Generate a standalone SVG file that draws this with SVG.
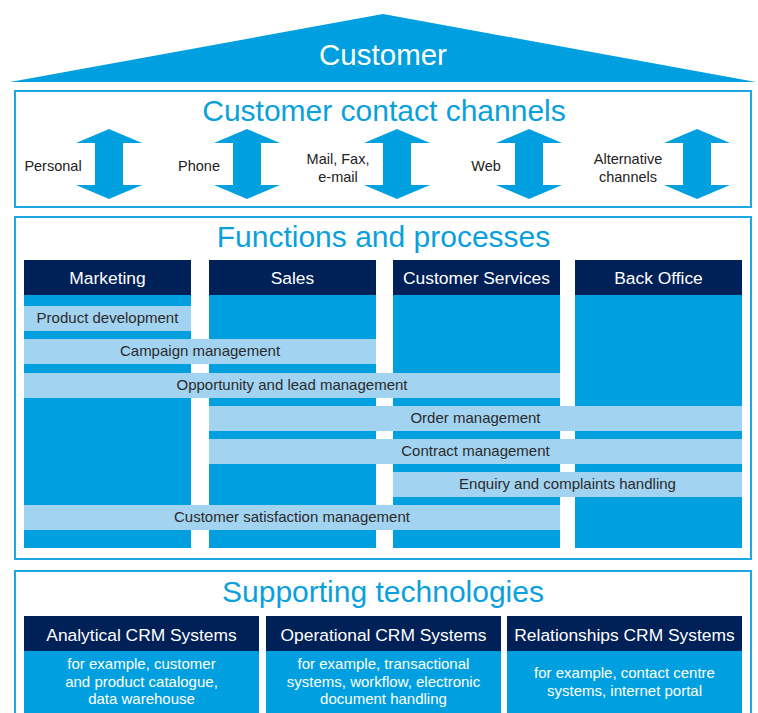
<svg xmlns="http://www.w3.org/2000/svg" xmlns:xlink="http://www.w3.org/1999/xlink" width="758" height="713" viewBox="0 0 758 713">
  <style>
    text { font-family: "Liberation Sans", Arial, Helvetica, sans-serif; }
    .frame { fill: #ffffff; stroke: #1ea7e1; stroke-width: 2; }
    .title { fill: #0aa0dd; font-size: 30px; text-anchor: middle; }
    .chan { fill: #222222; font-size: 14.5px; text-anchor: middle; }
    .head { fill: #002157; }
    .headtxt { fill: #ffffff; font-size: 17.4px; text-anchor: middle; }
    .col { fill: #00a0e0; }
    .bar { fill: #a2d3f1; }
    .bartxt { fill: #2b2b2b; font-size: 15px; text-anchor: middle; }
    .bodytxt { fill: #ffffff; font-size: 15px; text-anchor: middle; }
    .arrow { fill: #00a0e0; }
  </style>
  <defs>
    <!-- two-way channel arrow, centred on the origin -->
    <path id="dblArrow" class="arrow" d="M0,-35 L33,-21 L14,-21 L14,21 L33,21 L0,35 L-33,21 L-14,21 L-14,-21 L-33,-21 Z"/>
  </defs>

  <rect width="758" height="713" fill="#ffffff"/>

  <!-- roof -->
  <g id="customer">
    <polygon points="10,82 383,14 756,82" fill="#00a0e0"/>
    <text x="383" y="65" fill="#ffffff" font-size="29.5" text-anchor="middle">Customer</text>
  </g>

  <!-- contact channels -->
  <g id="contact-channels">
    <rect class="frame" x="15" y="91" width="736" height="116"/>
    <text class="title" x="384" y="121">Customer contact channels</text>
  </g>
  <g id="channel-personal">
    <text class="chan" x="53" y="171">Personal</text>
  </g>
  <g id="channel-phone">
    <text class="chan" x="199" y="171">Phone</text>
  </g>
  <g id="channel-mail">
    <text class="chan" x="338" y="164">Mail, Fax,</text>
    <text class="chan" x="338" y="182">e-mail</text>
  </g>
  <g id="channel-web">
    <text class="chan" x="486" y="171">Web</text>
  </g>
  <g id="channel-alternative">
    <text class="chan" x="628" y="164">Alternative</text>
    <text class="chan" x="628" y="182">channels</text>
  </g>
  <g id="connectors">
    <use xlink:href="#dblArrow" x="109" y="164"/>
    <use xlink:href="#dblArrow" x="247" y="164"/>
    <use xlink:href="#dblArrow" x="397" y="164"/>
    <use xlink:href="#dblArrow" x="529" y="164"/>
    <use xlink:href="#dblArrow" x="697" y="164"/>
  </g>

  <!-- functions and processes -->
  <g id="functions-processes">
    <rect class="frame" x="15" y="217" width="736" height="342"/>
    <text class="title" x="383.5" y="247">Functions and processes</text>
  </g>
  <g id="col-marketing">
    <rect class="col" x="24" y="295" width="167" height="253"/>
    <rect class="head" x="24" y="260" width="167" height="35"/>
    <text class="headtxt" x="107.5" y="284">Marketing</text>
  </g>
  <g id="col-sales">
    <rect class="col" x="209" y="295" width="167" height="253"/>
    <rect class="head" x="209" y="260" width="167" height="35"/>
    <text class="headtxt" x="292.5" y="284">Sales</text>
  </g>
  <g id="col-customer-services">
    <rect class="col" x="393" y="295" width="167" height="253"/>
    <rect class="head" x="393" y="260" width="167" height="35"/>
    <text class="headtxt" x="476.5" y="284">Customer Services</text>
  </g>
  <g id="col-back-office">
    <rect class="col" x="575" y="295" width="167" height="253"/>
    <rect class="head" x="575" y="260" width="167" height="35"/>
    <text class="headtxt" x="658.5" y="284">Back Office</text>
  </g>

  <g id="proc-product-development">
    <rect class="bar" x="24" y="306" width="167" height="25"/>
    <text class="bartxt" x="107.5" y="323">Product development</text>
  </g>
  <g id="proc-campaign">
    <rect class="bar" x="24" y="339" width="352" height="25"/>
    <text class="bartxt" x="200" y="356">Campaign management</text>
  </g>
  <g id="proc-opportunity">
    <rect class="bar" x="24" y="373" width="536" height="25"/>
    <text class="bartxt" x="292" y="390">Opportunity and lead management</text>
  </g>
  <g id="proc-order">
    <rect class="bar" x="209" y="406" width="533" height="25"/>
    <text class="bartxt" x="475.5" y="423">Order management</text>
  </g>
  <g id="proc-contract">
    <rect class="bar" x="209" y="439" width="533" height="25"/>
    <text class="bartxt" x="475.5" y="456">Contract management</text>
  </g>
  <g id="proc-enquiry">
    <rect class="bar" x="393" y="472" width="349" height="25"/>
    <text class="bartxt" x="567.5" y="489">Enquiry and complaints handling</text>
  </g>
  <g id="proc-satisfaction">
    <rect class="bar" x="24" y="505" width="536" height="25"/>
    <text class="bartxt" x="292" y="522">Customer satisfaction management</text>
  </g>

  <!-- supporting technologies -->
  <g id="supporting-technologies">
    <rect class="frame" x="15" y="571" width="736" height="170"/>
    <text class="title" x="383" y="602">Supporting technologies</text>
  </g>
  <g id="tech-analytical">
    <rect class="col" x="24" y="651" width="235" height="80"/>
    <rect class="head" x="24" y="616" width="235" height="35"/>
    <text class="headtxt" x="141.5" y="641">Analytical CRM Systems</text>
    <text class="bodytxt" x="141.5" y="669">for example, customer</text>
    <text class="bodytxt" x="141.5" y="687">and product catalogue,</text>
    <text class="bodytxt" x="141.5" y="704">data warehouse</text>
  </g>
  <g id="tech-operational">
    <rect class="col" x="266" y="651" width="235" height="80"/>
    <rect class="head" x="266" y="616" width="235" height="35"/>
    <text class="headtxt" x="383.5" y="641">Operational CRM Systems</text>
    <text class="bodytxt" x="383.5" y="669">for example, transactional</text>
    <text class="bodytxt" x="383.5" y="687">systems, workflow, electronic</text>
    <text class="bodytxt" x="383.5" y="704">document handling</text>
  </g>
  <g id="tech-relationships">
    <rect class="col" x="507" y="651" width="235" height="80"/>
    <rect class="head" x="507" y="616" width="235" height="35"/>
    <text class="headtxt" x="624.5" y="641">Relationships CRM Systems</text>
    <text class="bodytxt" x="624.5" y="678">for example, contact centre</text>
    <text class="bodytxt" x="624.5" y="696">systems, internet portal</text>
  </g>
</svg>
